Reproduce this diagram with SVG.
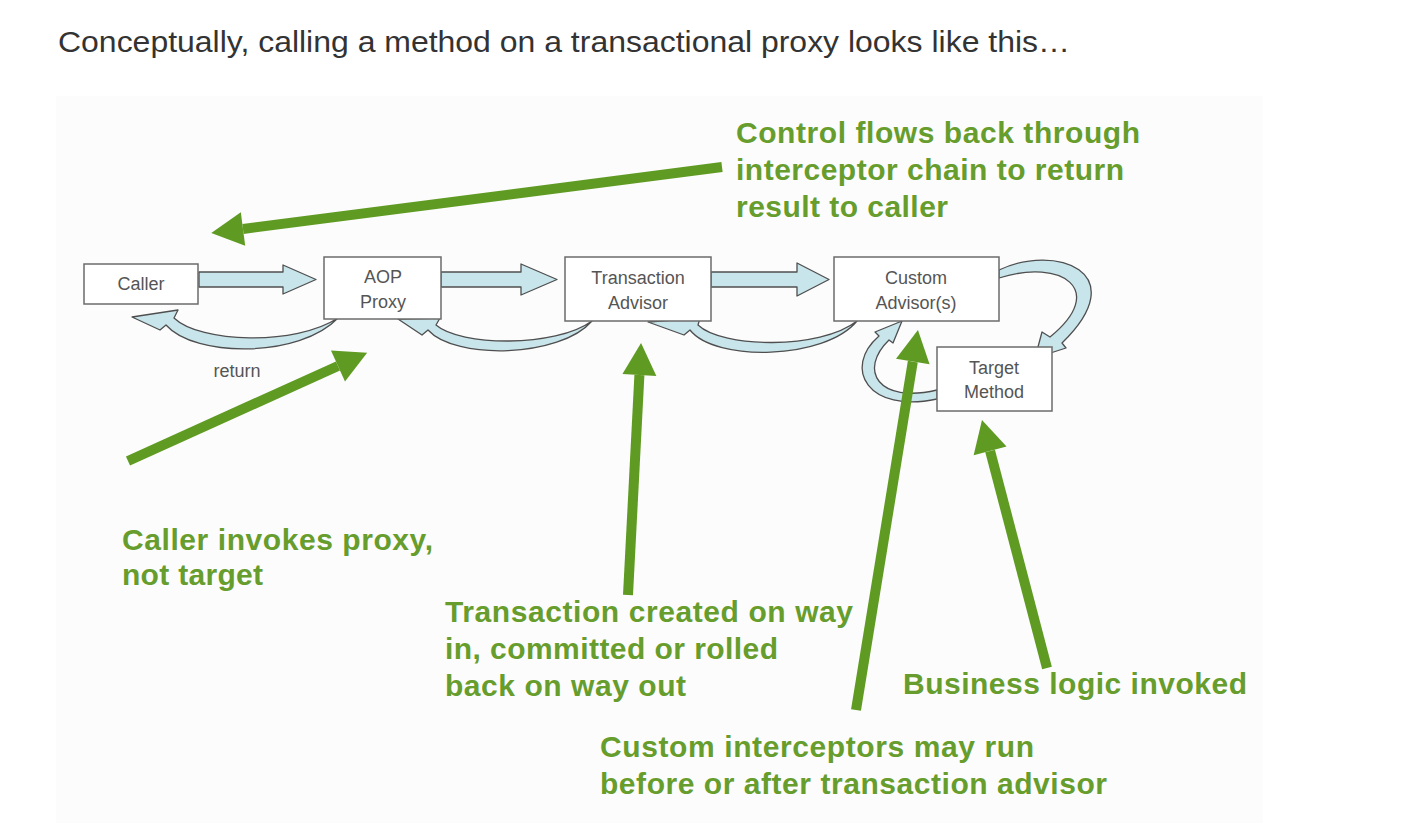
<svg xmlns="http://www.w3.org/2000/svg" width="1410" height="826" viewBox="0 0 1410 826">
<style>
.title{font-family:"Liberation Sans",Arial,sans-serif;font-size:29px;fill:#333333}
.box{fill:#ffffff;stroke:#6b6b6b;stroke-width:1.5}
.lbl{font-family:"Liberation Sans",Arial,sans-serif;font-size:18px;fill:#555555;text-anchor:middle}
.flow{fill:#c8e5eb;stroke:#4f4f4f;stroke-width:1.3;stroke-linejoin:round}
.note{font-family:"Liberation Sans",Arial,sans-serif;font-size:30px;font-weight:bold;fill:#679d2c}
.green{stroke:#5f9b22;stroke-width:10;fill:none}
</style>
<defs>
<marker id="gh" viewBox="0 -17 32 34" markerWidth="32" markerHeight="34" refX="0" refY="0" orient="auto" markerUnits="userSpaceOnUse" overflow="visible">
<path d="M0,-17 L32,0 L0,17 Z" fill="#5f9b22"/>
</marker>
</defs>
<rect x="0" y="0" width="1410" height="826" fill="#ffffff"/>
<rect x="56" y="96" width="1207" height="727" fill="#fcfcfc"/>
<text class="title" x="58" y="52" textLength="1012" lengthAdjust="spacingAndGlyphs">Conceptually, calling a method on a transactional proxy looks like this…</text>

<g id="connectors">
<polygon class="flow" points="199,272 283,272 283,265 316,279.5 283,294 283,287 199,287"/>
<polygon class="flow" points="441,272 521,272 521,264 557,279.5 521,295 521,287 441,287"/>
<polygon class="flow" points="711,272 797,272 797,263 829,279.5 797,296 797,287 711,287"/>
<path class="flow" d="M 338 318 C 300 358, 195 358, 166 325 L 160 330 L 132 317 L 178 310 L 174 318 C 200 343, 295 346, 338 318 Z"/>
<path class="flow" d="M 592 321 C 560 358, 455 360, 428 330 L 422 335 L 398 319 L 440 318 L 436 325 C 460 346, 555 348, 592 321 Z"/>
<path class="flow" d="M 857 321 C 825 360, 715 362, 690 330 L 684 335 L 648 322 L 700 318 L 698 325 C 722 348, 820 350, 857 321 Z"/>
<path class="flow" d="M 999 270 C 1055 243, 1135 272, 1062 343 L 1066 348 L 1035 358 L 1042 332 L 1050 337 C 1108 290, 1062 258, 999 278 Z"/>
<path class="flow" d="M 937 399 C 868 414, 842 368, 879 336 L 875 332 L 902 321 L 893 343 L 889 340 C 858 370, 878 404, 937 390 Z"/>
<text class="lbl" x="237" y="377" font-size="17">return</text>
</g>

<g id="caller">
<rect class="box" x="84" y="264" width="114" height="40"/>
<text class="lbl" x="141" y="290">Caller</text>
</g>
<g id="aop-proxy">
<rect class="box" x="324" y="257" width="117" height="62"/>
<text class="lbl" x="383" y="283">AOP</text>
<text class="lbl" x="383" y="308">Proxy</text>
</g>
<g id="transaction-advisor">
<rect class="box" x="565" y="257" width="146" height="64"/>
<text class="lbl" x="638" y="284">Transaction</text>
<text class="lbl" x="638" y="309">Advisor</text>
</g>
<g id="custom-advisors">
<rect class="box" x="834" y="257" width="165" height="64"/>
<text class="lbl" x="916" y="284">Custom</text>
<text class="lbl" x="916" y="309">Advisor(s)</text>
</g>
<g id="target-method">
<rect class="box" x="937" y="347" width="115" height="64"/>
<text class="lbl" x="994" y="374">Target</text>
<text class="lbl" x="994" y="398">Method</text>
</g>

<g id="annotations">
<line class="green" x1="722" y1="167" x2="243" y2="229" marker-end="url(#gh)"/>
<line class="green" x1="128" y1="461" x2="338" y2="366" marker-end="url(#gh)"/>
<line class="green" x1="628" y1="595" x2="639.4" y2="375" marker-end="url(#gh)"/>
<line class="green" x1="856" y1="710" x2="912.8" y2="361.6" marker-end="url(#gh)"/>
<line class="green" x1="1047" y1="668" x2="990.1" y2="450.9" marker-end="url(#gh)"/>
</g>

<g id="note-control">
<text class="note" x="736" y="143" textLength="404">Control flows back through</text>
<text class="note" x="736" y="180" textLength="388">interceptor chain to return</text>
<text class="note" x="736" y="217" textLength="212">result to caller</text>
</g>
<g id="note-caller">
<text class="note" x="122" y="550" textLength="311">Caller invokes proxy,</text>
<text class="note" x="122" y="585" textLength="141">not target</text>
</g>
<g id="note-transaction">
<text class="note" x="445" y="622" textLength="408">Transaction created on way</text>
<text class="note" x="445" y="659" textLength="333">in, committed or rolled</text>
<text class="note" x="445" y="696" textLength="241">back on way out</text>
</g>
<g id="note-business">
<text class="note" x="903" y="694" textLength="344">Business logic invoked</text>
</g>
<g id="note-custom">
<text class="note" x="600" y="757" textLength="434">Custom interceptors may run</text>
<text class="note" x="600" y="794" textLength="507">before or after transaction advisor</text>
</g>
</svg>
